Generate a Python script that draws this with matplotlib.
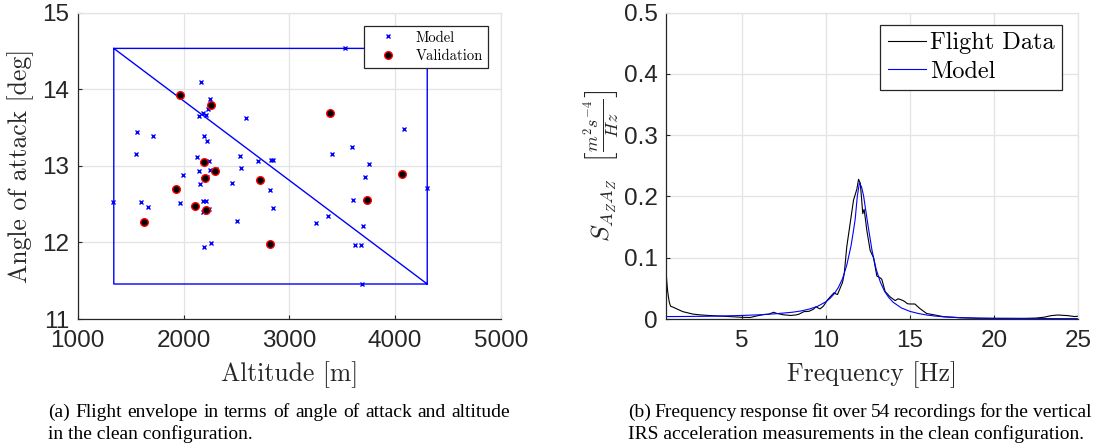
import matplotlib
matplotlib.use("Agg")
import matplotlib.pyplot as plt

plt.rcParams['mathtext.fontset'] = 'cm'

# ---------------- data: flight envelope ----------------
model_alt = [3524, 2161, 2246, 2230, 2145, 2183, 2208, 2593, 1562, 1716,
             1552, 2189, 2224, 2126, 2240, 2530, 2707, 2830, 2842, 2543,
             2303, 2246, 2145, 1991, 2221, 2151, 2454, 2820, 1338, 1596,
             1666, 1968, 2183, 2215, 2183, 2240, 2842, 2505, 2192, 2259,
             3249, 3369, 3404, 3593, 3751, 3719, 3603, 3694, 3625, 3675,
             3688, 4088, 4303]
model_aoa = [14.54, 14.10, 13.87, 13.74, 13.655, 13.686, 13.664, 13.63, 13.44, 13.39,
             13.16, 13.39, 13.33, 13.11, 13.06, 13.13, 13.06, 13.076, 13.08, 12.97,
             12.96, 12.95, 12.93, 12.88, 12.86, 12.76, 12.78, 12.69, 12.53, 12.53,
             12.46, 12.515, 12.536, 12.536, 12.40, 12.44, 12.45, 12.28, 11.94, 11.99,
             12.26, 12.345, 13.155, 13.25, 13.02, 12.85, 12.56, 12.22, 11.97, 11.96,
             11.46, 13.48, 12.715]
val_alt = [1962, 2262, 3385, 2192, 2293, 2202, 1931, 2722, 4066, 2104,
           2208, 3732, 1625, 2820]
val_aoa = [13.92, 13.79, 13.69, 13.05, 12.93, 12.84, 12.70, 12.81, 12.89, 12.48,
           12.42, 12.55, 12.27, 11.975]
env_alt = [1341, 4303, 4303, 1341, 1341, 4303]
env_aoa = [14.534, 14.534, 11.457, 11.457, 14.534, 11.457]

# ---------------- data: frequency response ----------------
fd_f = [0.5, 0.55, 0.6, 0.65, 0.7, 0.77, 0.85, 0.95, 1.1, 1.3, 1.5, 1.8, 2.1, 2.5, 2.9,
        3.4, 3.9, 4.4, 5.0, 5.5, 5.9, 6.3, 6.6, 6.9, 7.1, 7.5, 7.9, 8.2, 8.4, 8.7,
        9.0, 9.27, 9.42, 9.55, 9.66, 9.86, 10.1, 10.36, 10.5, 10.6, 10.7, 10.85, 11.0, 11.1, 11.25,
        11.45, 11.65, 11.85, 11.95, 12.05, 12.12, 12.2, 12.28, 12.35, 12.44, 12.64, 12.84, 13.04, 13.2,
        13.33, 13.53, 13.83, 14.13, 14.3, 14.42, 14.6, 14.72, 14.85, 15.0, 15.3, 15.6, 16.0, 16.4,
        17.0, 18.0, 19.0, 20.0, 21.0, 21.8, 22.5, 23.0, 23.4, 23.8, 24.1, 24.4, 24.8, 25.0]
fd_v = [0.079, 0.060, 0.045, 0.035, 0.027, 0.021, 0.020, 0.019, 0.017, 0.0145, 0.012, 0.010, 0.008, 0.0068, 0.006,
        0.0052, 0.0045, 0.0038, 0.0028, 0.0025, 0.005, 0.0072, 0.0078, 0.011, 0.009, 0.0068, 0.0058, 0.0065, 0.0078, 0.012,
        0.0125, 0.016, 0.020, 0.018, 0.0165, 0.021, 0.031, 0.039, 0.043, 0.041, 0.040, 0.050, 0.060, 0.074, 0.118,
        0.156, 0.194, 0.212, 0.228, 0.222, 0.200, 0.172, 0.179, 0.165, 0.145, 0.112, 0.100, 0.070, 0.068,
        0.065, 0.045, 0.036, 0.030, 0.033, 0.032, 0.030, 0.028, 0.025, 0.0245, 0.0245, 0.017, 0.009, 0.007,
        0.0038, 0.002, 0.0012, 0.001, 0.001, 0.001, 0.0015, 0.003, 0.0055, 0.0065, 0.006, 0.0055, 0.004, 0.0045]
md_f = [0.5, 1, 2, 3, 4, 5, 6, 7, 8, 8.5, 9, 9.5, 10, 10.25, 10.5, 10.75, 11, 11.25, 11.5,
        11.625, 11.75, 11.875, 12.0, 12.125, 12.25, 12.375, 12.5, 12.75, 13.0, 13.25, 13.5,
        13.75, 14.0, 14.5, 15, 15.5, 16, 16.5, 17, 18, 19, 20, 22, 25]
md_v = [0.0040, 0.0040, 0.0042, 0.0045, 0.0050, 0.0058, 0.0068, 0.0085, 0.0110, 0.0130, 0.0160, 0.0205,
        0.0280, 0.0335, 0.0410, 0.0515, 0.0660, 0.0880, 0.1190, 0.1400, 0.1630, 0.2000, 0.2220, 0.2160,
        0.2010, 0.1780, 0.1550, 0.1120, 0.0810, 0.0600, 0.0450, 0.0350, 0.0275, 0.0180, 0.0125, 0.0090,
        0.0065, 0.0048, 0.0036, 0.0022, 0.0015, 0.0011, 0.0008, 0.0006]

alt_ticks = [1000, 2000, 3000, 4000, 5000]
aoa_ticks = [11, 12, 13, 14, 15]
f_ticks = [5, 10, 15, 20, 25]
s_ticks = [0, 0.1, 0.2, 0.3, 0.4, 0.5]
s_ticklabels = ['0', '0.1', '0.2', '0.3', '0.4', '0.5']

caption_a = ['(a) Flight envelope in terms of angle of attack and altitude',
             'in the clean configuration.']
caption_b = ['(b) Frequency response fit over 54 recordings for the vertical',
             'IRS acceleration measurements in the clean configuration.']

# ---------------- style ----------------
W, H = 1097, 448
fig = plt.figure(figsize=(W / 100, H / 100), dpi=100)
DARK = '#262626'
GRID = '#e3e3e3'
TICKFONT = 'Liberation Sans'
SERIF = 'cmr10'


def style_axes(ax):
    ax.grid(True, color=GRID, linewidth=0.9)
    ax.set_axisbelow(True)
    for s in ['top', 'right']:
        ax.spines[s].set_color(GRID)
        ax.spines[s].set_linewidth(0.9)
    for s in ['left', 'bottom']:
        ax.spines[s].set_color(DARK)
        ax.spines[s].set_linewidth(0.9)
    ax.tick_params(direction='in', length=3, width=0.8, color=DARK,
                   labelcolor=DARK, labelsize=17.5)
    ax.tick_params(axis='x', pad=8)
    ax.tick_params(axis='y', pad=6)
    ax.tick_params(top=False, right=False)
    for lab in ax.get_xticklabels() + ax.get_yticklabels():
        lab.set_fontfamily(TICKFONT)


def px_axes(l, r, t, b):
    return fig.add_axes([l / W, 1 - b / H, (r - l) / W, (b - t) / H])


# ---------------- left panel ----------------
ax1 = px_axes(77.7, 501, 12.7, 319)
ax1.plot(env_alt, env_aoa, color='#0000ff', linewidth=1.0)
ax1.plot(model_alt, model_aoa, linestyle='none', marker='x', color='#0000ff',
         markersize=3.2, markeredgewidth=1.0, label='Model')
ax1.plot(val_alt, val_aoa, linestyle='none', marker='o', markerfacecolor='black',
         markeredgecolor='red', markeredgewidth=1.0, markersize=5.5, label='Validation')
ax1.set_xlim(1000, 5000)
ax1.set_ylim(11, 15)
ax1.set_xticks(alt_ticks)
ax1.set_yticks(aoa_ticks)
style_axes(ax1)
ax1.set_xlabel('Altitude [m]', fontfamily=SERIF, fontsize=18.5, color=DARK, va='center')
ax1.set_ylabel('Angle of attack [deg]', fontfamily=SERIF, fontsize=18.5, color=DARK, va='center')
ax1.xaxis.set_label_coords(0.5, (319 - 375) / 306.3)
ax1.yaxis.set_label_coords((21 - 77.7) / 423.3, 0.5)
leg1 = ax1.legend(loc='upper right', bbox_to_anchor=((487.7 - 77.7) / 423.3, (319 - 25.7) / 306.3),
                  borderaxespad=0, fancybox=False, edgecolor=DARK, framealpha=1,
                  prop={'family': SERIF, 'size': 10.5}, handlelength=2.6, handletextpad=0.6,
                  borderpad=0.35, labelspacing=0.3)
leg1.get_frame().set_linewidth(0.9)

# ---------------- right panel ----------------
ax2 = px_axes(666, 1078, 12.7, 319)
ax2.plot(fd_f, fd_v, color='black', linewidth=0.8, label='Flight Data')
ax2.plot(md_f, md_v, color='#0000ff', linewidth=0.8, label='Model')
ax2.set_xlim(0.5, 25)
ax2.set_ylim(0, 0.5)
ax2.set_xticks(f_ticks)
ax2.set_yticks(s_ticks)
ax2.set_yticklabels(s_ticklabels)
style_axes(ax2)
ax2.set_xlabel('Frequency [Hz]', fontfamily=SERIF, fontsize=18.5, color=DARK, va='center')
ax2.set_ylabel(r'$S_{A_Z A_Z}\ \ \left[\frac{m^2 s^{-4}}{Hz}\right]$', fontsize=18.5,
               color=DARK, va='center')
ax2.xaxis.set_label_coords(0.5, (319 - 375) / 306.3)
ax2.yaxis.set_label_coords((601 - 666) / 412, 0.5)
leg2 = ax2.legend(loc='upper right', bbox_to_anchor=((1062 - 666) / 412, (319 - 25) / 306.3),
                  borderaxespad=0, fancybox=False, edgecolor=DARK, framealpha=1,
                  prop={'family': SERIF, 'size': 17.5}, handlelength=1.6, handletextpad=0.15,
                  borderpad=0.3, labelspacing=0.25)
leg2.get_frame().set_linewidth(0.9)

# ---------------- captions (first line justified like LaTeX) ----------------
cap_kw = dict(fontfamily='Liberation Serif', fontsize=14, color='black', va='center', ha='left')
renderer = fig.canvas.get_renderer()


def justified_line(text, x0, x1, y):
    words = text.split(' ')
    objs = [fig.text(0, y / H, w, **cap_kw) for w in words]
    widths = [o.get_window_extent(renderer).width for o in objs]
    gap = (x1 - x0 - sum(widths)) / (len(words) - 1)
    x = x0
    for o, w in zip(objs, widths):
        o.set_x(x / W)
        x += w + gap


def caption(lines, x0, x1):
    justified_line(lines[0], x0, x1, H - 412)
    fig.text(x0 / W, 1 - 434 / H, lines[1], **cap_kw)


caption(caption_a, 48, 510)
caption(caption_b, 628, 1091)

fig.savefig('out.png', dpi=100)
